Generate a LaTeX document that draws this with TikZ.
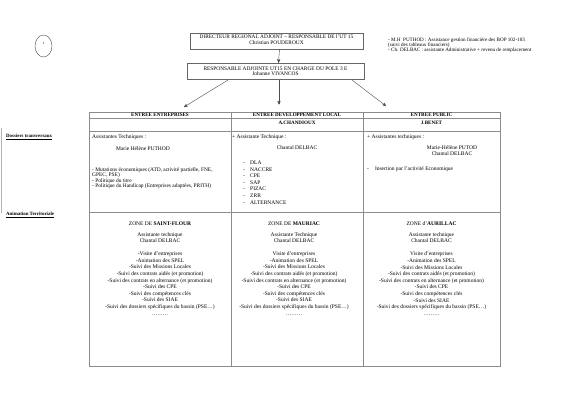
\documentclass[tikz,border=0pt]{standalone}
\usepackage{fontspec}
\setmainfont{Liberation Serif}
\usetikzlibrary{arrows,shapes.geometric}

\begin{document}
\begin{tikzpicture}[x=1pt,y=-1pt,>=stealth',
        every node/.style={inner sep=0pt,text=black},
        font=\fontsize{5.5}{6.6}\selectfont]
        \tikzstyle{box}=[draw=black!60,rectangle,line width=0.5pt]
        \tikzstyle{grid}=[draw=black!45,line width=0.6pt]
        \tikzstyle{link}=[->,draw=black!70,thin]
        \tikzstyle{head}=[font=\fontsize{5.1}{6}\selectfont\bfseries]
        \tikzstyle{side}=[anchor=west,font=\fontsize{4.9}{6}\selectfont\bfseries]

        \useasboundingbox (0,0) rectangle (566,400);

        % page number and management boxes
        \node[ellipse,draw=black!70,minimum width=17pt,minimum height=22pt] (one) at (43.5,46) {};
        \node[font=\fontsize{3.5}{4}\selectfont] (onetxt) at (43.5,43.5) {1};

        \node[box,minimum width=173pt,minimum height=16pt] (dir) at (276.5,41) {};
        \node[align=center,font=\fontsize{5.4}{5.1}\selectfont] (dirtxt) at (276.5,39.6)
            {DIRECTEUR REGIONAL ADJOINT -- RESPONSABLE DE l'UT 15\\Christian POUDEROUX};
        \node[box,minimum width=177pt,minimum height=16pt] (resp) at (275.5,71) {};
        \node[align=center,font=\fontsize{5.4}{5.1}\selectfont] (resptxt) at (275.5,71.5)
            {RESPONSABLE ADJOINTE UT15 EN CHARGE DU POLE 3 E\\Johanne VIVANCOS};

        \node[anchor=north west,align=left,font=\fontsize{5.1}{5.3}\selectfont] (note) at (388,37.5)
            {- M.H\ \ PUTHOD : Assistance gestion financière des BOP 102-103\\
             (suivi des tableaux financiers)\\
             - Ch. DELBAC : assistante Administrative + revenu de remplacement};

        % arrows
        \coordinate (s1) at (228,80);
        \coordinate (e1) at (184,107);
        \coordinate (s2) at (279,80);
        \coordinate (e2) at (279,104.5);
        \coordinate (s3) at (352,80);
        \coordinate (e3) at (386,106);
        \draw[link] ([xshift=3pt]dir.south) -- ([xshift=3pt]resp.north);
        \draw[link] (s1) -- (e1);
        \draw[link] (s2) -- (e2);
        \draw[link] (s3) -- (e3);

        % table
        \draw[black!30] (1,128) -- (1,213);
        \draw[grid] (89,112) rectangle (500,366);
        \foreach \y in {118,131,212}
            \draw[grid] (89,\y) -- (500,\y);
        \foreach \x in {231,363}
            \draw[grid] (\x,112) -- (\x,366);

        \node[head] (hent) at (160,115.2) {ENTREE ENTREPRISES};
        \node[head] (hdev) at (297,115.2) {ENTREE DEVELOPPEMENT LOCAL};
        \node[head] (hdevn) at (297,122.5) {A.CHANDIOUX};
        \node[head] (hpub) at (431.5,115.2) {ENTREE PUBLIC};
        \node[head] (hpubn) at (431.5,122.5) {J.BENET};

        \node[side] (dos) at (6,137) {\underline{Dossiers transversaux}};
        \node[side] (anim) at (6,215) {\underline{Animation Territoriale}};

        % dossiers transversaux
        \node[anchor=west] (c1a) at (92,137) {Assistantes Techniques :};
        \node (c1b) at (143,149) {Marie Hélène PUTHOD};
        \node[anchor=north west,align=left,font=\fontsize{5.4}{5.4}\selectfont] (c1c) at (92,167.6)
            {- Mutations économiques (ATD, activité partielle, FNE,\\
             GPEC, PSE)\\
             - Politique du titre\\
             - Politique du Handicap (Entreprises adaptées, PRITH)};

        \node[anchor=west] (c2a) at (232,137) {+ Assistante Technique :};
        \node (c2b) at (297,148) {Chantal DELBAC};
        \node[anchor=north west,align=left] (c2c) at (243,160.6)
            {-\hspace{5.2pt}DLA\\ -\hspace{5.2pt}NACCRE\\ -\hspace{5.2pt}CPE\\ -\hspace{5.2pt}SAP\\
             -\hspace{5.2pt}PIZAC\\ -\hspace{5.2pt}ZRR\\ -\hspace{5.2pt}ALTERNANCE};

        \node[anchor=west] (c3a) at (367,137) {+ Assistantes techniques :};
        \node[align=center,font=\fontsize{5.5}{6}\selectfont] (c3b) at (452,151)
            {Marie-Hélène PUTOD\\Chantal DELBAC};
        \node[anchor=west] (c3c) at (367,169) {-\hspace{6pt}Insertion par l'activité Economique};

        % animation territoriale
        \foreach \x/\zname/\ztitle/\zwho/\zdash in
            {160/z1/ZONE DE \textbf{SAINT-FLOUR}/technique/-,
             294/z2/ZONE DE \textbf{MAURIAC}/Technique/,
             431.5/z3/ZONE d'\textbf{AURILLAC}/technique/}
            \node[anchor=north,align=center] (\zname) at (\x,221.3)
                {\ztitle\\[4.4pt]
                 Assistante \zwho\\
                 Chantal DELBAC\\[6.4pt]
                 \zdash Visite d'entreprises\\
                 -Animation des SPEL\\
                 -Suivi des Missions Locales\\
                 -Suivi des contrats aidés (et promotion)\\
                 -Suivi des contrats en alternance (et promotion)\\
                 -Suivi des CPE\\
                 -Suivi des compétences clés\\
                 -Suivi des SIAE\\
                 -Suivi des dossiers spécifiques du bassin (PSE…)\\
                 ………};

\end{tikzpicture}
\end{document}
